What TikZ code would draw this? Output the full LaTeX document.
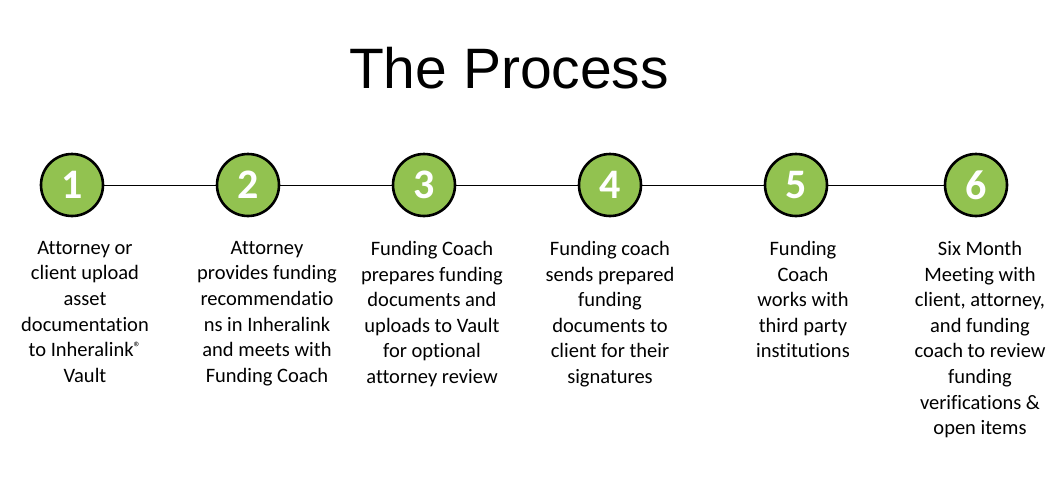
\documentclass[tikz,border=0pt]{standalone}
\usepackage{fontspec}
\setmainfont{Carlito}[RawFeature={-liga;-clig;-dlig;-calt}]
\newfontfamily\titlefont{Liberation Sans}
\usetikzlibrary{positioning}
\definecolor{stepgreen}{RGB}{146,194,80}

\begin{document}
\begin{tikzpicture}[
		x=1pt, y=1pt,
		num/.style={circle, draw=black, line width=2.6pt, fill=stepgreen, minimum size=62pt, inner sep=0pt,
			text=white, font=\fontsize{42}{42}\selectfont\bfseries},
		desc/.style={align=center, inner sep=0pt, font=\fontsize{20.5}{25.6}\selectfont},
		link/.style={draw=black, line width=0.9pt},
	]
	\useasboundingbox (0,0) rectangle (1056,-490);

	% title
	\node[font=\titlefont\fontsize{57}{57}\selectfont, anchor=base] (title) at (509,-88) {The Process};

	% steps
	\node[num] (n1) at (72,-185)  {1};
	\node[num] (n2) at (248,-185) {2};
	\node[num] (n3) at (424,-185) {3};
	\node[num] (n4) at (610,-185) {4};
	\node[num] (n5) at (796,-185) {5};
	\node[num] (n6) at (976,-185) {6};

	% connectors
	\draw[link] (n1) -- (n2);
	\draw[link] (n2) -- (n3);
	\draw[link] (n3) -- (n4);
	\draw[link] (n4) -- (n5);
	\draw[link] (n5) -- (n6);

	% descriptions
	\node[desc, anchor=north] (t1) at (85,-241) {Attorney or\\client upload\\asset\\documentation\\to Inheralink{\fontsize{15}{15}\selectfont\raisebox{4pt}{®}}\\Vault};
	\node[desc, anchor=north] (t2) at (267,-241) {Attorney\\provides funding\\recommendatio\\ns in Inheralink\\and meets with\\Funding Coach};
	\node[desc, anchor=north] (t3) at (432,-241) {Funding Coach\\prepares funding\\documents and\\uploads to Vault\\for optional\\attorney review};
	\node[desc, anchor=north] (t4) at (610,-241) {Funding coach\\sends prepared\\funding\\documents to\\client for their\\signatures};
	\node[desc, anchor=north] (t5) at (803,-241) {Funding\\Coach\\works with\\third party\\institutions};
	\node[desc, anchor=north] (t6) at (980,-241) {Six Month\\Meeting with\\client, attorney,\\and funding\\coach to review\\funding\\verifications \&\\open items};
\end{tikzpicture}
\end{document}
